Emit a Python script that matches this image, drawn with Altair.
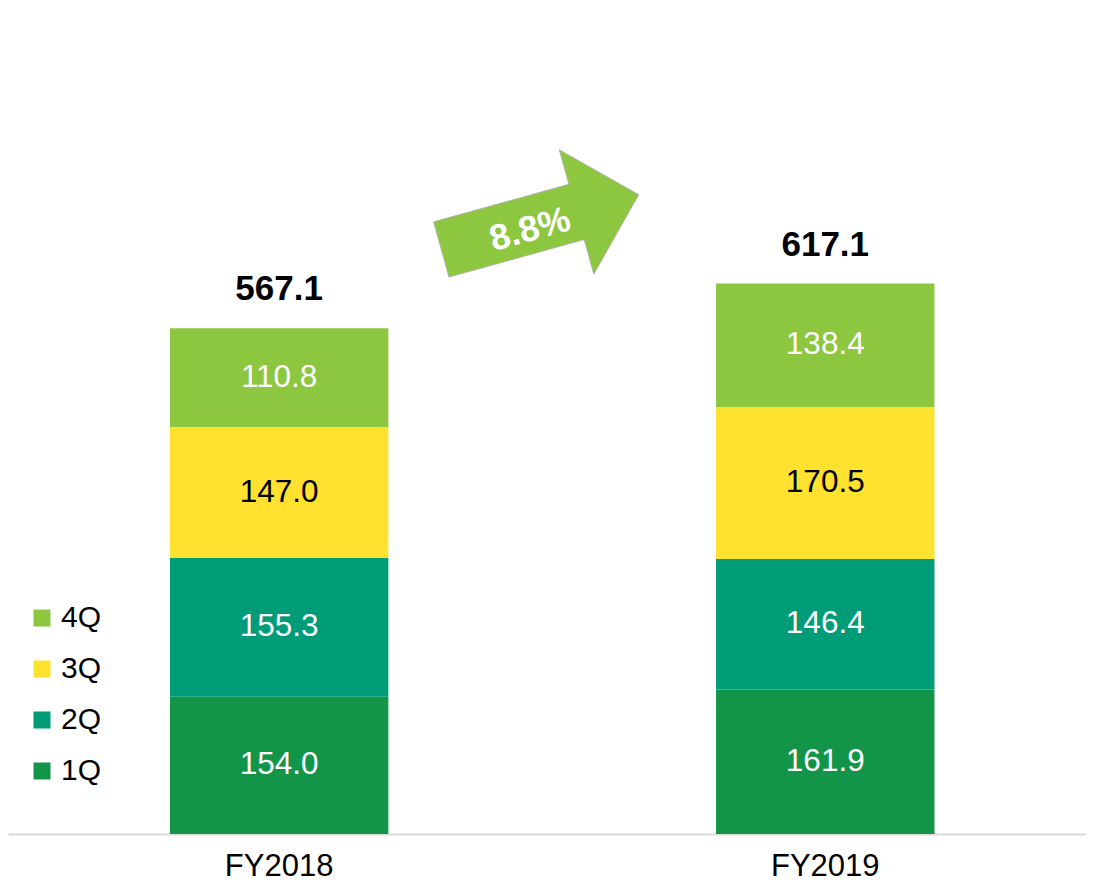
import altair as alt
import pandas as pd

years = ["FY2018", "FY2019"]
quarters = ["1Q", "2Q", "3Q", "4Q"]
values_fy2018 = [154.0, 155.3, 147.0, 110.8]
values_fy2019 = [161.9, 146.4, 170.5, 138.4]
totals = [567.1, 617.1]
growth_label = "8.8%"
colors = ["#139549", "#009B77", "#FFE12F", "#8DC63F"]
label_colors = ["white", "white", "black", "white"]

rows = []
for yr, vals in zip(years, [values_fy2018, values_fy2019]):
    for i, (q, v) in enumerate(zip(quarters, vals)):
        rows.append({"year": yr, "quarter": q, "value": v, "order": i,
                     "lc": label_colors[i]})
df = pd.DataFrame(rows)
df_tot = pd.DataFrame({"year": years, "total": totals})

W, H = 1078, 826
YMAX = 926
FONT = "Liberation Sans"

x = alt.X("year:N", sort=years,
          scale=alt.Scale(paddingInner=0.6, paddingOuter=0.287, align=0.5166),
          axis=alt.Axis(title=None, ticks=False, domainColor="#d9d9d9", domainWidth=2,
                        labelFontSize=31, labelFont=FONT, labelColor="black",
                        labelPadding=17, labelAngle=0, labelBaseline="top"))
yscale = alt.Scale(domain=[0, YMAX], nice=False)

bars = alt.Chart(df).mark_bar().encode(
    x=x,
    y=alt.Y("value:Q", stack="zero", scale=yscale, axis=None),
    color=alt.Color("quarter:N", sort=quarters,
                    scale=alt.Scale(domain=quarters, range=colors),
                    legend=alt.Legend(title=None, orient="none", legendX=19, legendY=595,
                                      direction="vertical", symbolType="square",
                                      symbolSize=289, symbolStrokeWidth=0,
                                      labelFontSize=30, labelFont=FONT,
                                      labelColor="black", rowPadding=21,
                                      values=quarters[::-1])),
    order=alt.Order("order:Q", sort="ascending"),
)

seg_labels = alt.Chart(df).mark_text(fontSize=31.5, font=FONT).encode(
    x=alt.X("year:N", sort=years),
    y=alt.Y("mid:Q", scale=yscale),
    text=alt.Text("value:Q", format=".1f"),
    color=alt.Color("lc:N", scale=None),
).transform_stack(
    stack="value", groupby=["year"], as_=["v0", "v1"], sort=[alt.SortField("order")]
).transform_calculate(mid="(datum.v0 + datum.v1) / 2")

tot_labels = alt.Chart(df_tot).mark_text(fontSize=35, fontWeight="bold",
                                         font=FONT, baseline="bottom",
                                         dy=-21, color="black").encode(
    x=alt.X("year:N", sort=years),
    y=alt.Y("total:Q", scale=yscale),
    text=alt.Text("total:Q", format=".1f"),
)

arrow_path = "M-1,-0.28 L0.37,-0.28 L0.37,-0.63 L1,0 L0.37,0.63 L0.37,0.28 L-1,0.28 Z"
df_arrow = pd.DataFrame({"label": [growth_label], "level": [686.0]})
arrow = alt.Chart(df_arrow).mark_point(shape=arrow_path, filled=True, fill="#8DC63F",
                                       stroke="#b0b0b0", strokeWidth=0.8, opacity=1,
                                       angle=344.5, size=42000).encode(
    x=alt.value(532),
    y=alt.Y("level:Q", scale=yscale),
)
arrow_text = alt.Chart(df_arrow).mark_text(fontSize=36, fontWeight="bold",
                                           font=FONT, color="white",
                                           angle=344.5, dy=8).encode(
    x=alt.value(520),
    y=alt.Y("level:Q", scale=yscale),
    text="label:N",
)

chart = alt.layer(bars, seg_labels, tot_labels, arrow, arrow_text).properties(
    width=W, height=H,
    padding={"left": 0, "top": 0, "right": 0, "bottom": 50},
    autosize=alt.AutoSizeParams(type="none"),
    background="white",
).configure_view(stroke=None)

chart.save("out.html", embed_options={"renderer": "svg", "actions": False})
